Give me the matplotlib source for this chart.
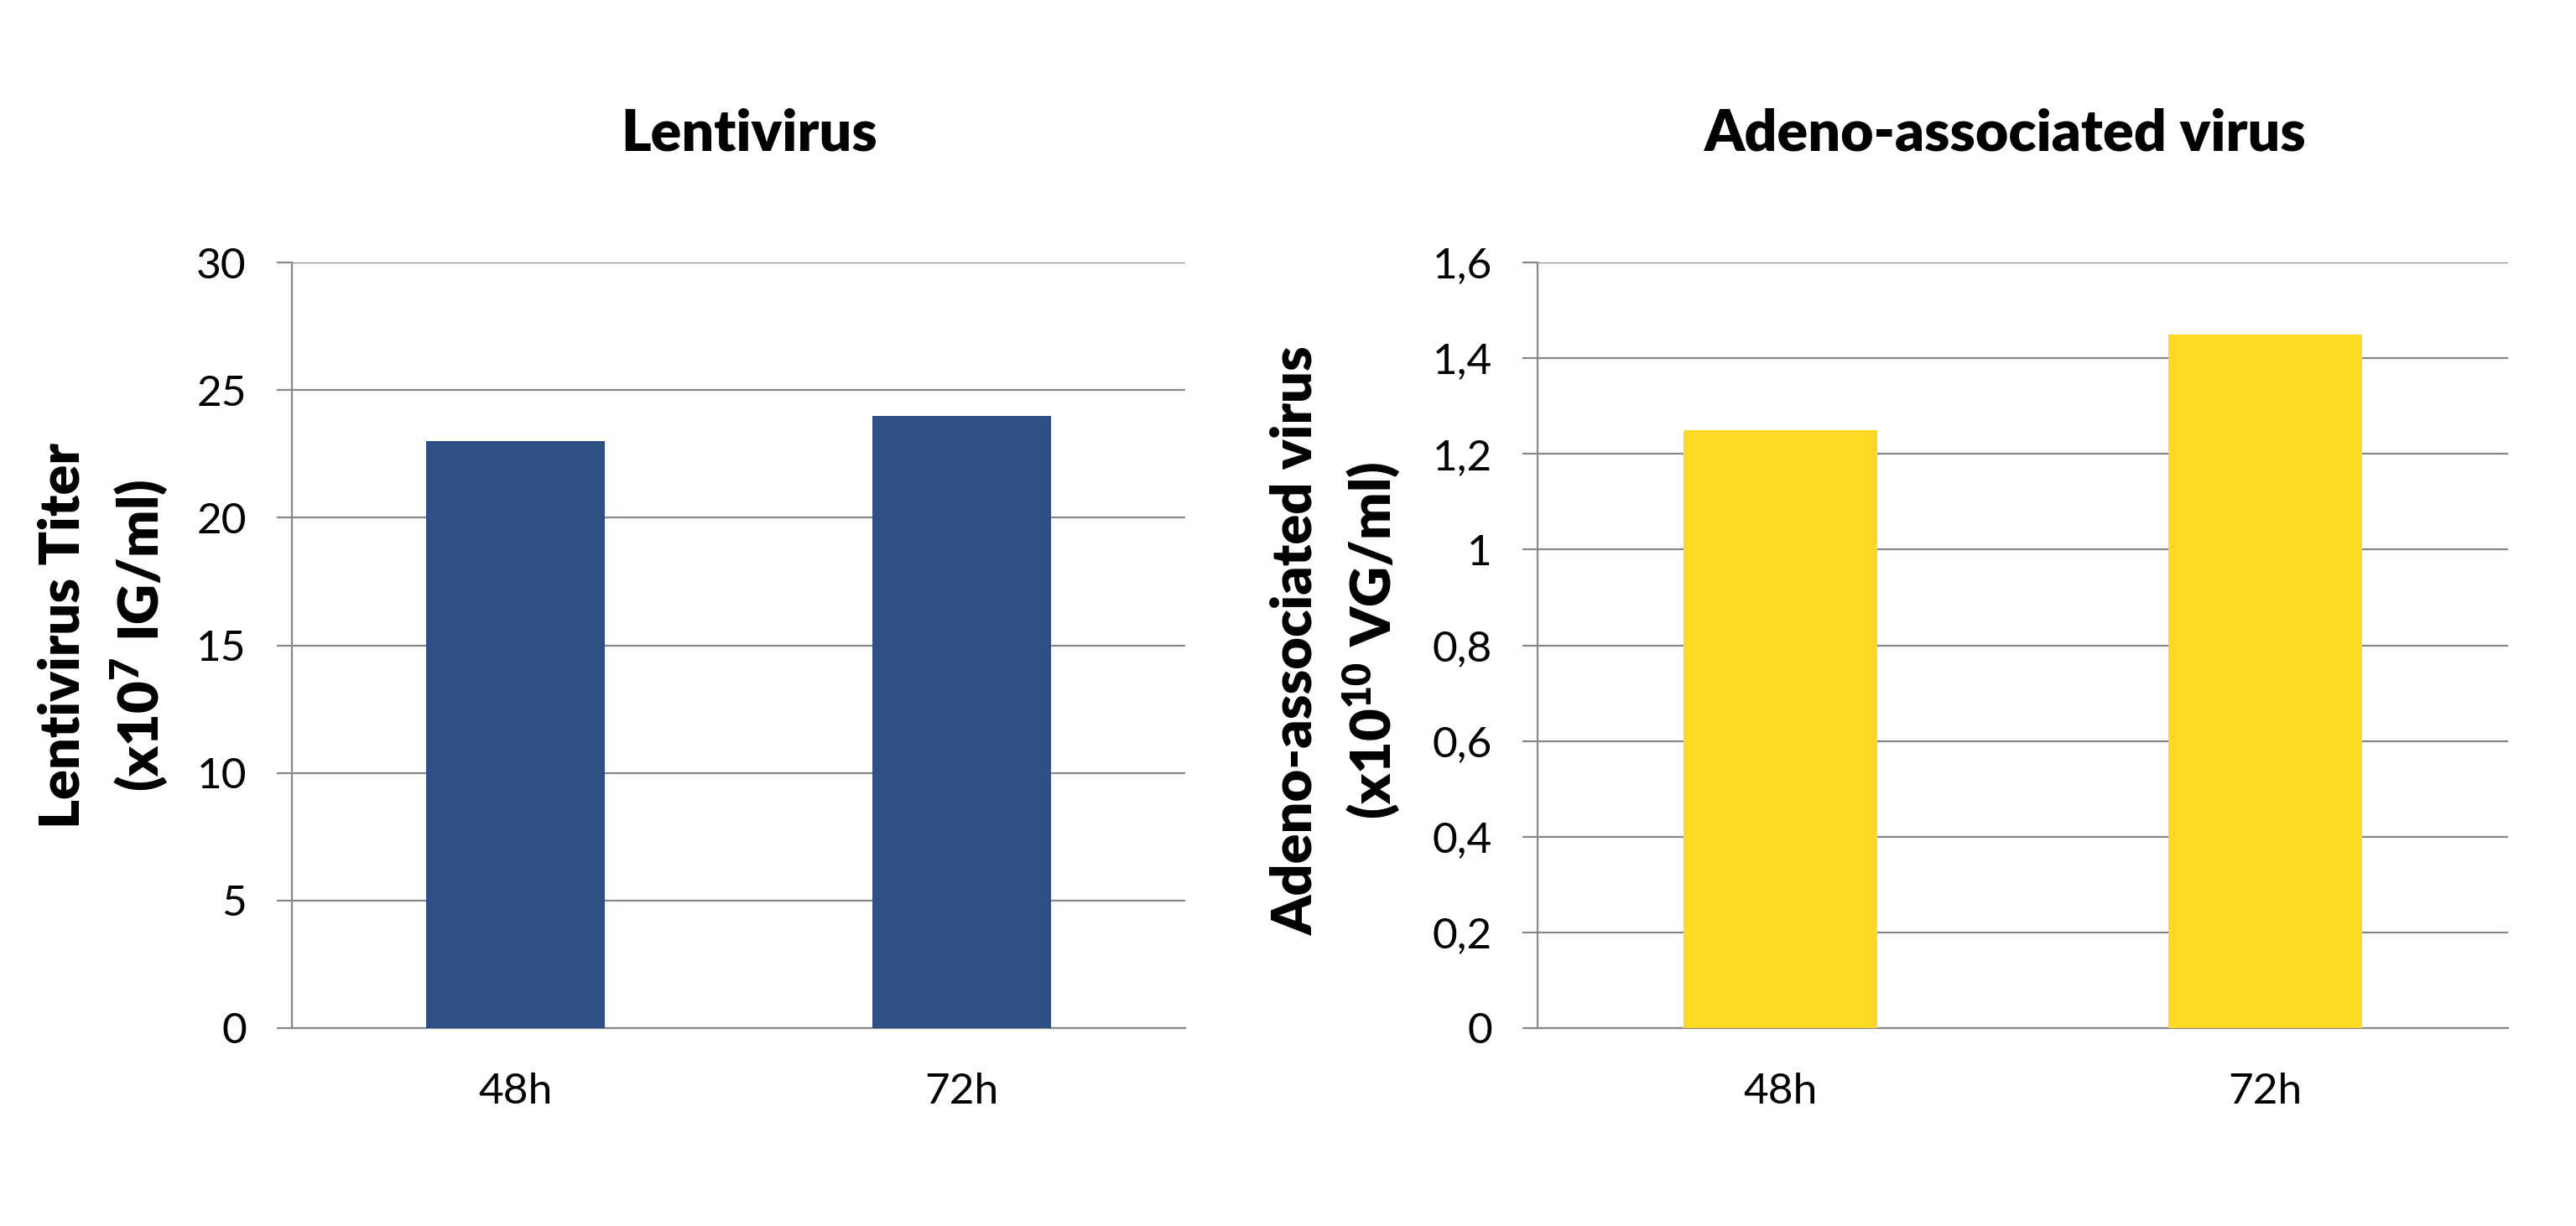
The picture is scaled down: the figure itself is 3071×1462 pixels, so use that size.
import matplotlib
matplotlib.use("Agg")
import matplotlib.pyplot as plt

# ---- data ----
categories = ["48h", "72h"]
lenti_values = [23, 24]
aav_values = [1.25, 1.45]
lenti_ticks = [0, 5, 10, 15, 20, 25, 30]
lenti_ticklabels = ["0", "5", "10", "15", "20", "25", "30"]
aav_ticks = [0, 0.2, 0.4, 0.6, 0.8, 1.0, 1.2, 1.4, 1.6]
aav_ticklabels = ["0", "0,2", "0,4", "0,6", "0,8", "1", "1,2", "1,4", "1,6"]
titles = ["Lentivirus", "Adeno-associated virus"]
ylabel_lines_left = ["Lentivirus Titer", r"$\mathbf{(x10^{7}\ IG/ml)}$"]
ylabel_lines_right = ["Adeno-associated virus", r"$\mathbf{(x10^{10}\ VG/ml)}$"]

BLUE = "#2C4F84"
YELLOW = "#FCD922"
GRAY = "#878787"

plt.rcParams["font.family"] = ["Lato", "DejaVu Sans"]
plt.rcParams["mathtext.fontset"] = "custom"
plt.rcParams["mathtext.rm"] = "Lato"
plt.rcParams["mathtext.bf"] = "Lato:heavy"
plt.rcParams["mathtext.it"] = "Lato:italic"

W, H = 3071, 1462
fig = plt.figure(figsize=(W / 100, H / 100), dpi=100)
fig.patch.set_facecolor("white")

def fx(px):
    return px / W

def fy(py):
    return 1 - py / H

axes_px = [(348, 1413), (1833, 2990)]
top_px, bot_px = 313, 1226

TICK_FS = 37
TITLE_FS = 49
YLAB_FS = 48
BOLD = "heavy"

def style_axis(ax, ticks, ticklabels, ymax):
    ax.set_ylim(0, ymax)
    ax.set_xlim(-0.5, 1.5)
    ax.set_yticks(ticks)
    ax.set_yticklabels(ticklabels, fontsize=TICK_FS)
    ax.set_xticks(range(len(categories)))
    ax.set_xticklabels(categories, fontsize=TICK_FS)
    ax.yaxis.grid(True, color=GRAY, linewidth=1.6)
    ax.set_axisbelow(True)
    for s in ["top", "right"]:
        ax.spines[s].set_visible(False)
    for s in ["left", "bottom"]:
        ax.spines[s].set_color(GRAY)
        ax.spines[s].set_linewidth(1.6)
    ax.tick_params(axis="y", length=13, width=1.6, color=GRAY, pad=26)
    ax.tick_params(axis="x", length=0, pad=38)

axs = []
for (x0, x1) in axes_px:
    ax = fig.add_axes([fx(x0), fy(bot_px), (x1 - x0) / W, (bot_px - top_px) / H])
    axs.append(ax)

axL, axR = axs
axL.bar(range(len(categories)), lenti_values, width=0.4, color=BLUE, zorder=3)
style_axis(axL, lenti_ticks, lenti_ticklabels, 30)
axR.bar(range(len(categories)), aav_values, width=0.4, color=YELLOW, zorder=3)
style_axis(axR, aav_ticks, aav_ticklabels, 1.6)

# titles
fig.text(fx(893), fy(160), titles[0], fontsize=TITLE_FS, fontweight=BOLD,
         ha="center", va="center")
fig.text(fx(2391), fy(160), titles[1], fontsize=TITLE_FS, fontweight=BOLD,
         ha="center", va="center")

# y labels (two lines each)
fig.text(fx(75), fy(758), ylabel_lines_left[0], fontsize=YLAB_FS, fontweight=BOLD,
         rotation=90, ha="center", va="center")
fig.text(fx(167), fy(758), ylabel_lines_left[1], fontsize=YLAB_FS, fontweight=BOLD,
         rotation=90, ha="center", va="center")
fig.text(fx(1545), fy(764), ylabel_lines_right[0], fontsize=YLAB_FS, fontweight=BOLD,
         rotation=90, ha="center", va="center")
fig.text(fx(1635), fy(764), ylabel_lines_right[1], fontsize=YLAB_FS, fontweight=BOLD,
         rotation=90, ha="center", va="center")

fig.savefig("out.png", dpi=100, facecolor="white")
